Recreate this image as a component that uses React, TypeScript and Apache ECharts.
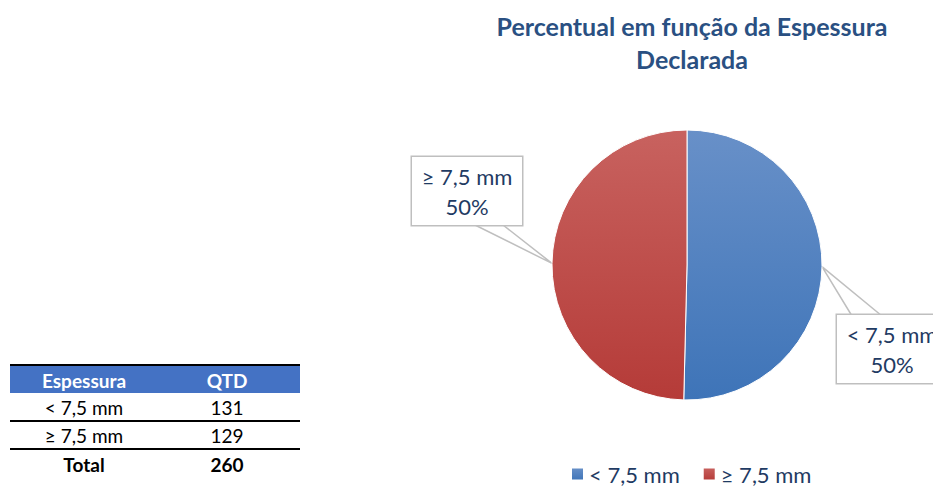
import React, { useEffect, useRef } from "react";
import * as echarts from "echarts";

const TITLE = "Percentual em função da Espessura\nDeclarada";
const categories = ["< 7,5 mm", "≥ 7,5 mm"];
const counts = [131, 129];
const tableHeader = ["Espessura", "QTD"];
const totalLabel = "Total";

const FONT = "Lato, 'Noto Sans', sans-serif";
const TEXT_COLOR = "#1F3B63";

const gradients = [
  ["#6890C8", "#3E74B8"],
  ["#C8625F", "#B53B38"],
];

export default function App() {
  const ref = useRef<HTMLDivElement>(null);

  useEffect(() => {
    if (!ref.current) return;
    const chart = echarts.init(ref.current, undefined, { renderer: "svg" });
    const total = counts.reduce((a, b) => a + b, 0);

    const pieData = categories.map((name, i) => ({
      name,
      value: counts[i],
      itemStyle: {
        color: new echarts.graphic.LinearGradient(0, 0, 0, 1, [
          { offset: 0, color: gradients[i][0] },
          { offset: 1, color: gradients[i][1] },
        ]),
      },
    }));

    // table graphics
    const tx = 10, tw = 290;
    const col1 = 84, col2 = 227;
    const rowsY = [407, 435];
    const tf = 19;
    const graphics: any[] = [
      { type: "rect", shape: { x: tx, y: 366, width: tw, height: 27 }, style: { fill: "#4472C4" } },
      { type: "line", shape: { x1: tx, y1: 365, x2: tx + tw, y2: 365 }, style: { stroke: "#000", lineWidth: 2 } },
      { type: "text", x: col1, y: 380, style: { text: tableHeader[0], fill: "#fff", font: `bold ${tf}px ${FONT}`, align: "center", verticalAlign: "middle" } },
      { type: "text", x: col2, y: 380, style: { text: tableHeader[1], fill: "#fff", font: `bold ${tf}px ${FONT}`, align: "center", verticalAlign: "middle" } },
      { type: "line", shape: { x1: tx, y1: 421, x2: tx + tw, y2: 421 }, style: { stroke: "#000", lineWidth: 2 } },
      { type: "line", shape: { x1: tx, y1: 449, x2: tx + tw, y2: 449 }, style: { stroke: "#000", lineWidth: 2 } },
      { type: "text", x: col1, y: 464, style: { text: totalLabel, fill: "#000", font: `bold ${tf}px ${FONT}`, align: "center", verticalAlign: "middle" } },
      { type: "text", x: col2, y: 464, style: { text: String(total), fill: "#000", font: `bold ${tf}px ${FONT}`, align: "center", verticalAlign: "middle" } },
    ];
    categories.forEach((c, i) => {
      graphics.push({ type: "text", x: col1, y: rowsY[i], style: { text: c, fill: "#000", font: `${tf}px ${FONT}`, align: "center", verticalAlign: "middle" } });
      graphics.push({ type: "text", x: col2, y: rowsY[i], style: { text: String(counts[i]), fill: "#000", font: `${tf}px ${FONT}`, align: "center", verticalAlign: "middle" } });
    });

    chart.setOption({
      animation: false,
      backgroundColor: "#fff",
      title: {
        text: TITLE,
        left: 687,
        top: 4,
        textAlign: "center",
        textStyle: { fontFamily: FONT, fontWeight: "bold", fontSize: 25, color: "#2A5082", lineHeight: 33 },
      },
      legend: {
        left: 570,
        top: 463,
        padding: 0,
        icon: "rect",
        itemWidth: 13,
        itemHeight: 13,
        itemGap: 22,
        textStyle: { fontFamily: FONT, fontSize: 22, lineHeight: 20, color: TEXT_COLOR },
        data: categories,
      },
      graphic: graphics,
      series: [
        {
          type: "pie",
          center: [687, 265],
          radius: 135,
          startAngle: 90,
          clockwise: true,
          itemStyle: { borderColor: "#fff", borderWidth: 1 },
          label: {
            show: true,
            position: "outside",
            overflow: "none",
            width: 88,
            formatter: (p: any) => `${p.name}\n${Math.round(p.percent)}%`,
            fontFamily: FONT,
            fontSize: 22,
            lineHeight: 30,
            color: TEXT_COLOR,
            align: "center",
            backgroundColor: "#fff",
            borderColor: "#BFBFBF",
            borderWidth: 1.5,
            padding: [4, 11],
          },
          labelLine: { show: true, lineStyle: { color: "#BFBFBF", width: 1.5 } },
          labelLayout: (params: any) => {
            const tip = params.labelLinePoints ? params.labelLinePoints[0] : [0, 0];
            if (params.dataIndex === 1) {
              return {
                x: 467,
                y: 191,
                align: "center",
                verticalAlign: "middle",
                labelLinePoints: [[475, 225], tip, [503, 225]],
              };
            }
            return {
              x: 892,
              y: 349,
              align: "center",
              verticalAlign: "middle",
              labelLinePoints: [[852, 316], tip, [882, 316]],
            };
          },
          data: pieData,
        },
      ],
    });

    return () => chart.dispose();
  }, []);

  return (
    <div
      ref={ref}
      style={{ position: "fixed", left: 0, top: 0, width: 933, height: 486, background: "#fff" }}
    />
  );
}
